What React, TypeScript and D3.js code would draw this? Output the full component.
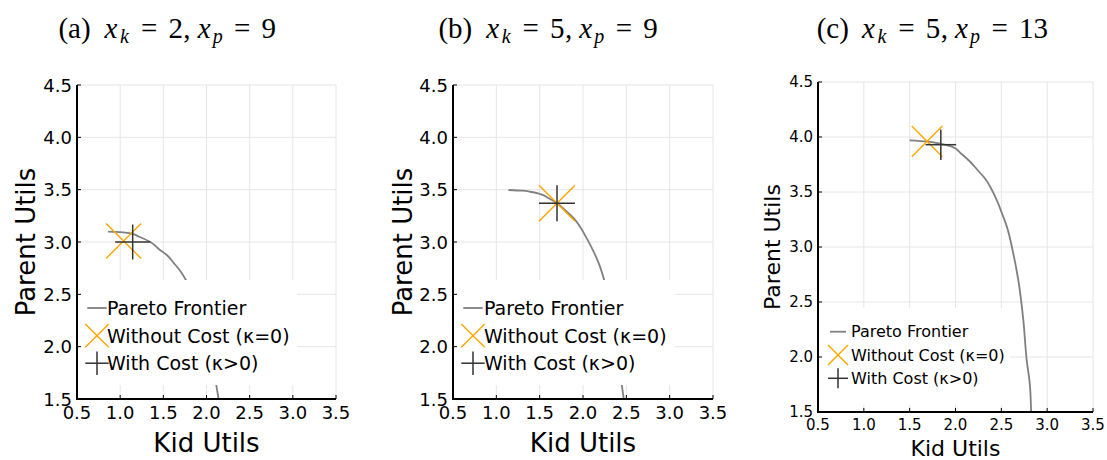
import React from "react";
import * as d3 from "d3";

// axis ticks shared by all three panels
const kidTicks = [0.5, 1.0, 1.5, 2.0, 2.5, 3.0, 3.5];
const parentTicks = [1.5, 2.0, 2.5, 3.0, 3.5, 4.0, 4.5];

// subplot titles
const panelLetters = ["a", "b", "c"];
const xkValues = [2, 5, 5];
const xpValues = [9, 9, 13];

const legendLabels = ["Pareto Frontier", "Without Cost (\u03ba=0)", "With Cost (\u03ba>0)"];

// pareto frontiers [kid, parent]
const frontierA: [number, number][] = [
  [0.86, 3.10], [1.0, 3.095], [1.11, 3.085], [1.22, 3.05], [1.35, 3.0], [1.45, 2.93],
  [1.54, 2.876], [1.62, 2.80], [1.69, 2.73], [1.76, 2.64], [1.86, 2.45], [1.95, 2.23],
  [2.02, 2.0], [2.08, 1.80], [2.12, 1.60], [2.14, 1.50],
];
const frontierB: [number, number][] = [
  [1.14, 3.497], [1.30, 3.49], [1.39, 3.48], [1.50, 3.46], [1.60, 3.42], [1.70, 3.37],
  [1.80, 3.30], [1.89, 3.23], [1.97, 3.14], [2.04, 3.04], [2.11, 2.93], [2.18, 2.80],
  [2.24, 2.65], [2.32, 2.35], [2.38, 2.05], [2.42, 1.80], [2.45, 1.62], [2.47, 1.50],
];
const frontierC: [number, number][] = [
  [1.50, 3.97], [1.68, 3.96], [1.83, 3.94], [1.96, 3.912], [2.06, 3.85], [2.16, 3.775],
  [2.24, 3.70], [2.32, 3.625], [2.39, 3.53], [2.45, 3.427], [2.51, 3.30], [2.56, 3.185],
  [2.63, 2.943], [2.685, 2.70], [2.74, 2.336], [2.777, 1.97], [2.81, 1.76], [2.825, 1.50],
];
const frontiers = [frontierA, frontierB, frontierC];

// optimum points [kid, parent]
const withoutCost: [number, number][] = [[1.04, 3.01], [1.70, 3.37], [1.69, 3.96]];
const withCost: [number, number][] = [[1.145, 3.0], [1.70, 3.37], [1.84, 3.93]];

// layout of each subplot
const layouts = [
  { left: 77, right: 336, top: 85, bottom: 399, tick: 18, label: 26, legFont: 19, mark: 17.5, legMark: 11.7,
    titleX: 56, legTop: 280, legBottom: 385, legRight: 297, row0: 308, rowGap: 27.6, symDx: 20, textDx: 30,
    yLabelDx: 42, xLabelY: 452 },
  { left: 453, right: 713, top: 85, bottom: 399, tick: 18, label: 26, legFont: 19, mark: 18, legMark: 11.7,
    titleX: 436, legTop: 280, legBottom: 385, legRight: 675, row0: 308, rowGap: 27.6, symDx: 20, textDx: 31,
    yLabelDx: 41, xLabelY: 452 },
  { left: 818, right: 1093, top: 82, bottom: 412, tick: 15, label: 22, legFont: 16, mark: 15.3, legMark: 10,
    titleX: 815, legTop: 308, legBottom: 405, legRight: 1010, row0: 331.7, rowGap: 23.3, symDx: 20, textDx: 33,
    yLabelDx: 38, xLabelY: 456 },
];

const SANS = "DejaVu Sans, sans-serif";
const SERIF = "Liberation Serif, serif";
const GRID = "#e6e6e6";
const FRONTIER = "#808080";
const ORANGE = "#ffa500";
const PLUS = "#333333";

// glyph advance widths (em) of the TeX math font, used to lay out the titles
const TEX_W: Record<string, number> = {
  "(": 0.389, ")": 0.389, a: 0.5, b: 0.556, c: 0.444, x: 0.572, sub: 0.36,
  "=": 0.778, d: 0.5, ",": 0.278, thick: 0.278, thin: 0.167, space: 0.333,
};

function Title({ i, x0 }: { i: number; x0: number }) {
  const s = 29;
  const tokens: { t: string; w: number; pre?: number; it?: boolean; sub?: boolean }[] = [
    { t: `(${panelLetters[i]})`, w: TEX_W["("] * 2 + TEX_W[panelLetters[i]] },
    { t: "x", w: TEX_W.x, pre: TEX_W.space, it: true },
    { t: "k", w: TEX_W.sub, it: true, sub: true },
    { t: "=", w: TEX_W["="], pre: TEX_W.thick },
    { t: String(xkValues[i]), w: TEX_W.d * String(xkValues[i]).length, pre: TEX_W.thick },
    { t: ",", w: TEX_W[","] },
    { t: "x", w: TEX_W.x, pre: TEX_W.thin, it: true },
    { t: "p", w: TEX_W.sub, it: true, sub: true },
    { t: "=", w: TEX_W["="], pre: TEX_W.thick },
    { t: String(xpValues[i]), w: TEX_W.d * String(xpValues[i]).length, pre: TEX_W.thick },
  ];
  let pos = 0;
  const placed = tokens.map(tk => {
    pos += tk.pre || 0;
    const c = pos + tk.w / 2;
    pos += tk.w;
    return { ...tk, c };
  });
  return (
    <text y={38} textAnchor="middle" fontFamily={SERIF} fontSize={s} fill="#000">
      {placed.map((tk, k) => (
        <tspan key={k} x={x0 + tk.c * s} y={tk.sub ? 42.5 : 38} fontStyle={tk.it ? "italic" : "normal"}
          fontSize={tk.sub ? 20 : s}>{tk.t}</tspan>
      ))}
    </text>
  );
}

function XMark({ x, y, r }: { x: number; y: number; r: number }) {
  return (
    <g stroke={ORANGE} strokeWidth={1.4}>
      <line x1={x - r} y1={y - r} x2={x + r} y2={y + r} />
      <line x1={x - r} y1={y + r} x2={x + r} y2={y - r} />
    </g>
  );
}

function PlusMark({ x, y, r }: { x: number; y: number; r: number }) {
  return (
    <g stroke={PLUS} strokeWidth={1.5}>
      <line x1={x - r} y1={y} x2={x + r} y2={y} />
      <line x1={x} y1={y - r} x2={x} y2={y + r} />
    </g>
  );
}

function Panel({ i }: { i: number }) {
  const L = layouts[i];
  const x = d3.scaleLinear().domain([0.5, 3.5]).range([L.left, L.right]);
  const y = d3.scaleLinear().domain([1.5, 4.5]).range([L.bottom, L.top]);
  const line = d3.line<[number, number]>().x(d => x(d[0])).y(d => y(d[1])).curve(d3.curveMonotoneY);
  const clipId = `clip-${i}`;
  const legX = L.left + 1;
  const symX = L.left + L.symDx;
  const txtX = L.left + L.textDx;

  return (
    <g>
      <defs>
        <clipPath id={clipId}>
          <rect x={L.left} y={L.top} width={L.right - L.left} height={L.bottom - L.top} />
        </clipPath>
      </defs>

      <Title i={i} x0={L.titleX} />

      {/* grid */}
      {kidTicks.map(t => (
        <line key={`gx${t}`} x1={x(t)} x2={x(t)} y1={L.top} y2={L.bottom} stroke={GRID} strokeWidth={1} />
      ))}
      {parentTicks.map(t => (
        <line key={`gy${t}`} x1={L.left} x2={L.right} y1={y(t)} y2={y(t)} stroke={GRID} strokeWidth={1} />
      ))}

      {/* data */}
      <path d={line(frontiers[i]) || ""} fill="none" stroke={FRONTIER} strokeWidth={1.8} clipPath={`url(#${clipId})`} />
      <XMark x={x(withoutCost[i][0])} y={y(withoutCost[i][1])} r={L.mark} />
      <PlusMark x={x(withCost[i][0])} y={y(withCost[i][1])} r={L.mark} />

      {/* legend */}
      <rect x={legX} y={L.legTop} width={L.legRight - legX} height={L.legBottom - L.legTop} fill="white" />
      <line x1={symX - L.legMark + 2} x2={symX + L.legMark - 2} y1={L.row0} y2={L.row0} stroke={FRONTIER} strokeWidth={1.8} />
      <XMark x={symX} y={L.row0 + L.rowGap} r={L.legMark} />
      <PlusMark x={symX} y={L.row0 + 2 * L.rowGap} r={L.legMark} />
      {legendLabels.map((lab, k) => (
        <text key={lab} x={txtX} y={L.row0 + k * L.rowGap} dominantBaseline="central"
          fontFamily={SANS} fontSize={L.legFont} fill="#000">{lab}</text>
      ))}

      {/* axes */}
      <line x1={L.left} x2={L.left} y1={L.top} y2={L.bottom + 1} stroke="#000" strokeWidth={2} />
      <line x1={L.left - 1} x2={L.right} y1={L.bottom} y2={L.bottom} stroke="#000" strokeWidth={2} />
      {kidTicks.map(t => (
        <g key={`tx${t}`}>
          <line x1={x(t)} x2={x(t)} y1={L.bottom} y2={L.bottom - 4} stroke="#000" strokeWidth={1} />
          <text x={x(t)} y={L.bottom + 7 + 0.73 * L.tick} textAnchor="middle" fontFamily={SANS} fontSize={L.tick}>
            {d3.format(".1f")(t)}
          </text>
        </g>
      ))}
      {parentTicks.map(t => (
        <g key={`ty${t}`}>
          <line x1={L.left} x2={L.left + 4} y1={y(t)} y2={y(t)} stroke="#000" strokeWidth={1} />
          <text x={L.left - 5} y={y(t)} textAnchor="end" dominantBaseline="central" fontFamily={SANS} fontSize={L.tick}>
            {d3.format(".1f")(t)}
          </text>
        </g>
      ))}

      {/* axis titles */}
      <text x={(L.left + L.right) / 2} y={L.xLabelY} textAnchor="middle" fontFamily={SANS} fontSize={L.label}>Kid Utils</text>
      <text transform={`translate(${L.left - L.yLabelDx},${(L.top + L.bottom) / 2}) rotate(-90)`} textAnchor="middle"
        fontFamily={SANS} fontSize={L.label}>Parent Utils</text>
    </g>
  );
}

export default function App() {
  return (
    <svg width={1107} height={460} style={{ position: "absolute", left: 0, top: 0, background: "white" }}>
      <rect width={1107} height={460} fill="white" />
      {panelLetters.map((_, i) => <Panel key={i} i={i} />)}
    </svg>
  );
}
